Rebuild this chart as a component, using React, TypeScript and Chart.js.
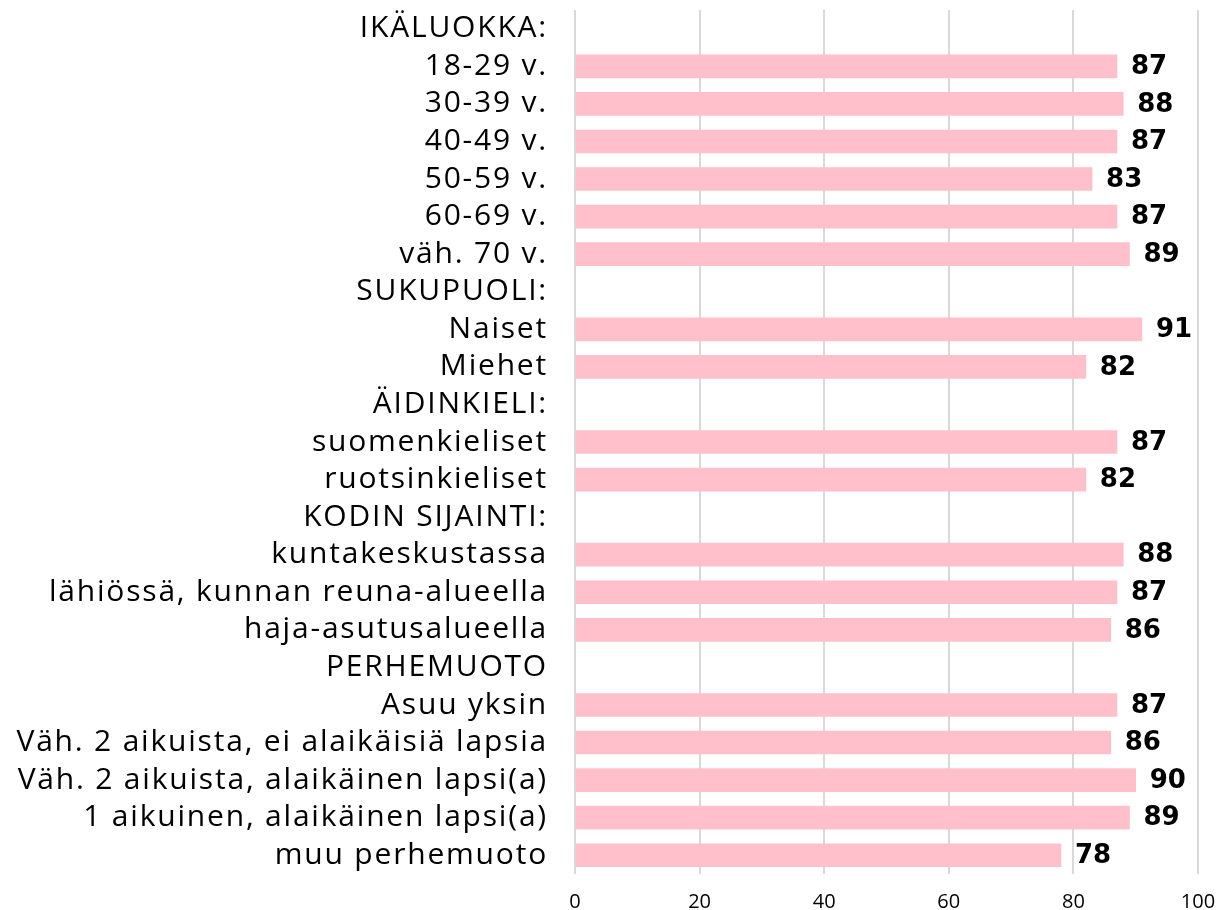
import React, { useEffect, useRef } from "react";
import { Chart, registerables } from "chart.js";

Chart.register(...registerables);

const categories: string[] = [
  "IKÄLUOKKA:",
  "18-29 v.",
  "30-39 v.",
  "40-49 v.",
  "50-59 v.",
  "60-69 v.",
  "väh. 70 v.",
  "SUKUPUOLI:",
  "Naiset",
  "Miehet",
  "ÄIDINKIELI:",
  "suomenkieliset",
  "ruotsinkieliset",
  "KODIN SIJAINTI:",
  "kuntakeskustassa",
  "lähiössä, kunnan reuna-alueella",
  "haja-asutusalueella",
  "PERHEMUOTO",
  "Asuu yksin",
  "Väh. 2 aikuista, ei alaikäisiä lapsia",
  "Väh. 2 aikuista, alaikäinen lapsi(a)",
  "1 aikuinen, alaikäinen lapsi(a)",
  "muu perhemuoto",
];

const values: (number | null)[] = [
  null, 87, 88, 87, 83, 87, 89,
  null, 91, 82,
  null, 87, 82,
  null, 88, 87, 86,
  null, 87, 86, 90, 89, 78,
];

const xTicks: number[] = [0, 20, 40, 60, 80, 100];

const LABEL_FONT = "'Open Sans', 'DejaVu Sans', sans-serif";

const spacingPlugin = {
  id: "spacing",
  afterLayout(chart: any) {
    const xs = chart.scales.x;
    if (xs && !xs.__patched) {
      const orig = xs.drawLabels;
      xs.drawLabels = function (...args: any[]) {
        const ctx = this.ctx;
        const prev = (ctx as any).letterSpacing;
        try { (ctx as any).letterSpacing = "0px"; } catch (e) {}
        orig.apply(this, args);
        try { (ctx as any).letterSpacing = prev; } catch (e) {}
      };
      xs.__patched = true;
    }
  },
  beforeDraw(chart: any) {
    try { (chart.ctx as any).letterSpacing = "1.8px"; } catch (e) {}
  },
  afterDraw(chart: any) {
    try { (chart.ctx as any).letterSpacing = "0px"; } catch (e) {}
  },
};

const valueLabels = {
  id: "valueLabels",
  afterDatasetsDraw(chart: any) {
    const ctx = chart.ctx;
    const meta = chart.getDatasetMeta(0);
    ctx.save();
    ctx.font = "bold 26px 'DejaVu Sans', sans-serif";
    try { (ctx as any).letterSpacing = "0px"; } catch (e) {}
    ctx.fillStyle = "#000000";
    ctx.textAlign = "left";
    ctx.textBaseline = "middle";
    meta.data.forEach((bar: any, i: number) => {
      const v = values[i];
      if (v === null || v === undefined) return;
      ctx.fillText(String(v), bar.x + 14, bar.y + 1);
    });
    ctx.restore();
  },
};

export default function App() {
  const ref = useRef<HTMLCanvasElement | null>(null);

  useEffect(() => {
    if (!ref.current) return;
    const chart = new Chart(ref.current, {
      type: "bar",
      data: {
        labels: categories,
        datasets: [
          {
            data: values as any,
            backgroundColor: "#FFC0CB",
            borderWidth: 0,
            barThickness: 23,
          },
        ],
      },
      options: {
        indexAxis: "y",
        responsive: true,
        maintainAspectRatio: false,
        animation: false,
        layout: { padding: { top: 10, right: 20, bottom: 0, left: 0 } },
        plugins: {
          legend: { display: false },
          tooltip: { enabled: false },
        },
        scales: {
          x: {
            min: 0,
            max: 100,
            afterBuildTicks(scale: any) {
              scale.ticks = xTicks.map((v) => ({ value: v }));
            },
            afterFit(scale: any) {
              scale.height = 36;
              scale.paddingLeft = 0;
              scale.paddingRight = 0;
            },
            grid: {
              color: "#d9d9d9",
              lineWidth: 2,
              drawTicks: false,
            },
            border: { display: false },
            ticks: {
              color: "#000000",
              font: { family: LABEL_FONT, size: 20 },
              padding: 16,
            },
          },
          y: {
            afterFit(scale: any) {
              scale.width = 575;
              scale.paddingTop = 0;
              scale.paddingBottom = 0;
            },
            grid: { display: false },
            border: { display: false },
            ticks: {
              color: "#000000",
              font: { family: LABEL_FONT, size: 30 },
              padding: 19,
              autoSkip: false,
            },
          },
        },
      },
      plugins: [spacingPlugin, valueLabels],
    });
    return () => chart.destroy();
  }, []);

  return (
    <div style={{ position: "fixed", left: 0, top: 0, width: 1218, height: 910, background: "#ffffff" }}>
      <canvas ref={ref} />
    </div>
  );
}
